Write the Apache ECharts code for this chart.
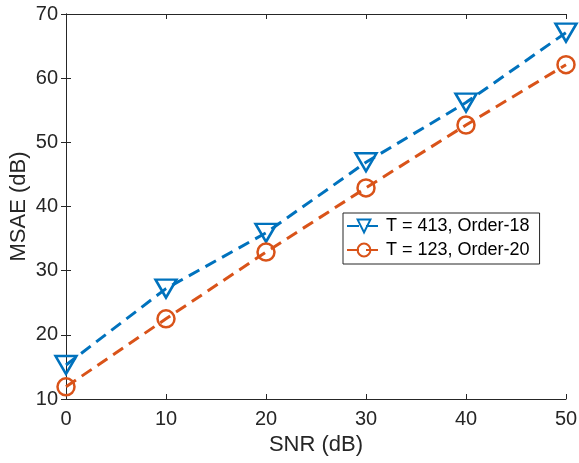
<!DOCTYPE html>
<html><head><meta charset="utf-8">
<script src="https://cdn.jsdelivr.net/npm/echarts@6/dist/echarts.min.js"></script>
<style>html,body{margin:0;padding:0;background:#fff}#c{width:579px;height:463px}</style>
</head><body><div id="c"></div>
<script>
const snr = [0, 10, 20, 30, 40, 50];
const seriesA = [15.3, 27.2, 35.9, 46.9, 56.2, 67.1];
const seriesB = [11.9, 22.5, 32.9, 42.9, 52.7, 62.1];
const nameA = 'T = 413, Order-18';
const nameB = 'T = 123, Order-20';
const axisColor = '#262626';
const font = 'Liberation Sans, Arial, sans-serif';

const chart = echarts.init(document.getElementById('c'));
const axisCommon = {
  axisLine: {show: true, lineStyle: {color: axisColor, width: 1}},
  axisTick: {show: true, inside: true, length: 5, lineStyle: {color: axisColor}},
  splitLine: {show: false}
};
chart.setOption({
  animation: false,
  grid: {left: 66, right: 13, top: 14, bottom: 64, containLabel: false, outerBoundsMode: 'none'},
  legend: {
    data: [nameA, nameB],
    orient: 'vertical',
    left: 343, top: 213,
    padding: [4, 10, 5, 3],
    itemGap: 6,
    itemWidth: 34, itemHeight: 16,
    borderColor: '#262626', borderWidth: 1,
    backgroundColor: '#fff',
    textStyle: {fontFamily: font, fontSize: 18, color: '#000'}
  },
  xAxis: [
    Object.assign({
      type: 'value', min: 0, max: 50, interval: 10, position: 'bottom',
      name: 'SNR (dB)', nameLocation: 'middle', nameGap: 35, nameMoveOverlap: false,
      nameTextStyle: {fontFamily: font, fontSize: 22, color: axisColor},
      axisLabel: {fontFamily: font, fontSize: 20, color: axisColor, margin: 10}
    }, axisCommon),
    Object.assign({
      type: 'value', min: 0, max: 50, interval: 10, position: 'top',
      axisLabel: {show: false}
    }, axisCommon)
  ],
  yAxis: [
    Object.assign({
      type: 'value', min: 10, max: 70, interval: 10, position: 'left',
      name: 'MSAE (dB)', nameLocation: 'middle', nameGap: 36, nameMoveOverlap: false,
      nameTextStyle: {fontFamily: font, fontSize: 22, color: axisColor},
      axisLabel: {fontFamily: font, fontSize: 20, color: axisColor, margin: 8}
    }, axisCommon),
    Object.assign({
      type: 'value', min: 10, max: 70, interval: 10, position: 'right',
      axisLabel: {show: false}
    }, axisCommon)
  ],
  series: [
    {
      name: nameA, type: 'line',
      data: snr.map((x, i) => [x, seriesA[i]]),
      lineStyle: {color: '#0072BD', width: 3, type: [12, 7]},
      symbol: 'triangle', symbolRotate: 180, symbolSize: [21, 18],
      itemStyle: {color: 'rgba(255,255,255,0)', borderColor: '#0072BD', borderWidth: 2.5},
      showAllSymbol: true, clip: false
    },
    {
      name: nameB, type: 'line',
      data: snr.map((x, i) => [x, seriesB[i]]),
      lineStyle: {color: '#D95319', width: 3, type: [12, 7]},
      symbol: 'circle', symbolSize: 17,
      itemStyle: {color: 'rgba(255,255,255,0)', borderColor: '#D95319', borderWidth: 2.5},
      showAllSymbol: true, clip: false
    }
  ]
});
</script></body></html>
